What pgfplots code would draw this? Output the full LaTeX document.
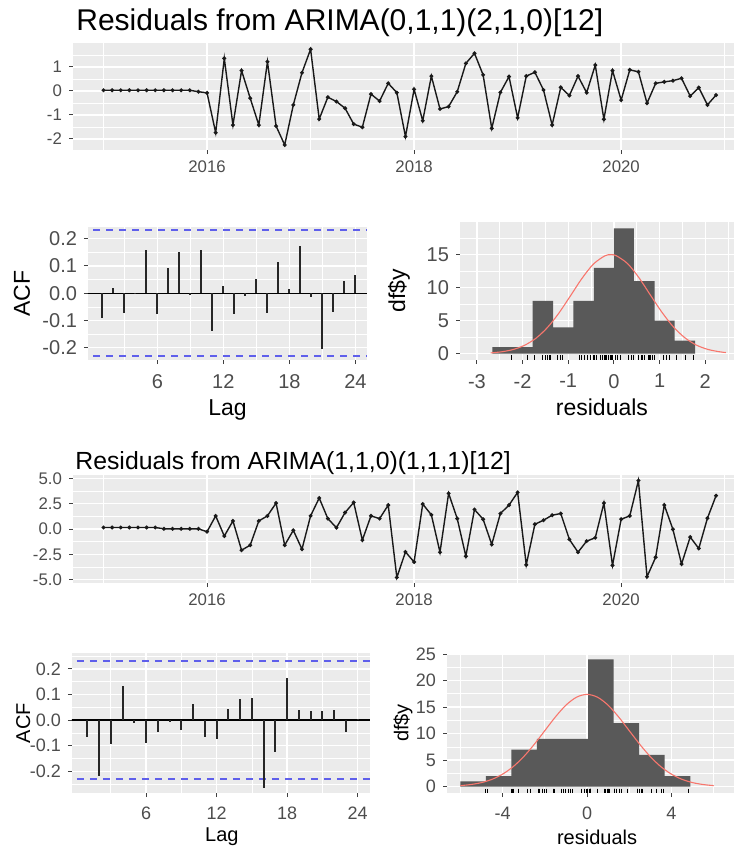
\documentclass[border=0pt]{standalone}
\usepackage{fontspec}
\setmainfont{Liberation Sans}
\usepackage{pgfplots}
\pgfplotsset{compat=1.18}
\usepackage{pgfplotstable}

\definecolor{panel}{HTML}{EBEBEB}
\definecolor{ggred}{RGB}{248,118,109}
\definecolor{acfblue}{RGB}{95,95,235}
\definecolor{ticktxt}{HTML}{4D4D4D}

% residuals, month index from Jan 2015
\pgfplotstableread{
i res
0 0.03
1 0.03
2 0.03
3 0.03
4 0.03
5 0.03
6 0.03
7 0.03
8 0.03
9 0.03
10 0.03
11 -0.03
12 -0.08
13 -1.74
14 1.36
15 -1.42
16 0.85
17 -0.30
18 -1.42
19 1.22
20 -1.46
21 -2.25
22 -0.58
23 0.76
24 1.74
25 -1.17
26 -0.26
27 -0.44
28 -0.72
29 -1.38
30 -1.51
31 -0.13
32 -0.42
33 0.32
34 -0.07
35 -1.90
36 0.07
37 -1.24
38 0.62
39 -0.75
40 -0.65
41 -0.03
42 1.15
43 1.57
44 0.67
45 -1.56
46 -0.06
47 0.60
48 -1.12
49 0.62
50 0.78
51 0.04
52 -1.42
53 0.15
54 -0.19
55 0.62
56 -0.07
57 1.08
58 -1.18
59 0.85
60 -0.38
61 0.88
62 0.80
63 -0.51
64 0.32
65 0.38
66 0.43
67 0.53
68 -0.21
69 0.14
70 -0.58
71 -0.17
}\resA

\pgfplotstableread{
i res
0 0.15
1 0.15
2 0.15
3 0.15
4 0.15
5 0.15
6 0.15
7 0.02
8 0.02
9 0.02
10 0.02
11 0.02
12 -0.27
13 1.30
14 -0.70
15 0.80
16 -2.10
17 -1.60
18 0.80
19 1.30
20 2.57
21 -1.60
22 -0.13
23 -2.00
24 1.30
25 3.07
26 1.03
27 0.13
28 1.63
29 2.63
30 -1.10
31 1.30
32 1.03
33 2.37
34 -4.80
35 -2.27
36 -3.27
37 2.47
38 1.40
39 -2.30
40 3.53
41 1.03
42 -2.70
43 1.93
44 0.97
45 -1.53
46 1.53
47 2.37
48 3.63
49 -3.55
50 0.47
51 0.87
52 1.37
53 1.53
54 -1.03
55 -2.30
56 -1.20
57 -0.87
58 2.57
59 -3.60
60 0.97
61 1.30
62 4.80
63 -4.73
64 -2.80
65 2.37
66 -0.03
67 -3.47
68 -0.80
69 -1.93
70 1.07
71 3.30
}\resB

\pgfplotsset{
  gg/.style={
    scale only axis, anchor=north west,
    axis background/.style={fill=panel},
    axis line style={draw=none},
    xmajorgrids, ymajorgrids, xminorgrids, yminorgrids,
    major grid style={white, line width=0.7pt},
    minor grid style={white, line width=0.35pt},
    tick align=outside, major tick length=2pt, minor tick length=0pt,
    tick style={black!75, line width=0.5pt},
    xtick pos=left, ytick pos=left,
    ticklabel style={text=ticktxt},
  },
  ts/.style={gg, xmin=2014.705, xmax=2021.09,
    xtick={2016,2018,2020}, xticklabels={2016,2018,2020},
    minor xtick={2015,2017,2019,2021},
    ticklabel style={font=\fontsize{8.4}{9}\selectfont}},
  acf/.style={gg, xmin=-0.3, xmax=25.05,
    xtick={6,12,18,24}, xticklabels={6,12,18,24},
    minor xtick={3,9,15,21},
    ytick={-0.2,-0.1,0,0.1,0.2}, yticklabels={-0.2,-0.1,0.0,0.1,0.2}},
  conf/.style={acfblue, dash pattern=on 3.5pt off 3pt, line width=0.8pt},
}

\begin{document}
\begin{tikzpicture}
\useasboundingbox (0,0) rectangle (367pt,-424pt);

% ---------- first model ----------
\node[anchor=base west, inner sep=0pt, font=\fontsize{15}{18}\selectfont] at (38pt,-15pt) {Residuals from ARIMA(0,1,1)(2,1,0)[12]};

\begin{axis}[ts, at={(36.5pt,-21.5pt)}, width=330.5pt, height=53.5pt,
  ymin=-2.46, ymax=2.0,
  ytick={-2,-1,0,1}, yticklabels={-2,-1,0,1},
  minor ytick={-1.5,-0.5,0.5,1.5}]
\addplot[black!90, line width=0.7pt, mark=*, mark size=0.6pt] table[x expr=2015+\thisrow{i}/12, y=res] {\resA};
\end{axis}

\begin{axis}[acf, at={(44pt,-113.5pt)}, width=139.5pt, height=66.5pt,
  ymin=-0.245, ymax=0.243,
  minor ytick={-0.15,-0.05,0.05,0.15},
  ticklabel style={font=\fontsize{10}{11}\selectfont},
  xticklabel style={yshift=-1.5pt},
  xlabel={Lag}, ylabel={ACF},
  label style={font=\fontsize{11.5}{13}\selectfont},
  xlabel style={at={(axis description cs:0.5,-0.376)}, anchor=center},
  ylabel style={at={(axis description cs:-0.237,0.5)}, anchor=center}]
\addplot[conf] coordinates {(-1,0.231) (26,0.231)};
\addplot[conf] coordinates {(-1,-0.231) (26,-0.231)};
\addplot[black, line width=0.6pt] coordinates {(-1,0) (26,0)};
\addplot[ycomb, black!85, line width=1pt] coordinates {
(1,-0.090) (2,0.018) (3,-0.073) (4,0.002) (5,0.158) (6,-0.075)
(7,0.091) (8,0.152) (9,-0.006) (10,0.158) (11,-0.137) (12,0.027)
(13,-0.075) (14,-0.010) (15,0.052) (16,-0.073) (17,0.115) (18,0.015)
(19,0.172) (20,-0.015) (21,-0.204) (22,-0.067) (23,0.046) (24,0.067)};
\end{axis}

\begin{axis}[gg, at={(230pt,-111pt)}, width=137pt, height=69pt,
  xmin=-3.37, xmax=2.63, ymin=-0.95, ymax=19.95,
  xtick={-3,-2,-1,0,1,2}, xticklabels={-3,-2,-1,0,1,2},
  minor xtick={-2.5,-1.5,-0.5,0.5,1.5,2.5},
  ytick={0,5,10,15}, yticklabels={0,5,10,15},
  minor ytick={2.5,7.5,12.5,17.5},
  ticklabel style={font=\fontsize{10}{11}\selectfont},
  xticklabel style={yshift=-1.5pt},
  xlabel={residuals}, ylabel={df\$y},
  label style={font=\fontsize{11.5}{13}\selectfont},
  xlabel style={at={(axis description cs:0.518,-0.34)}, anchor=center},
  ylabel style={at={(axis description cs:-0.223,0.5)}, anchor=center}]
\addplot[ybar interval, fill=black!65, draw=none] coordinates {
(-2.66,1) (-2.22,1) (-1.78,8) (-1.33,4) (-0.89,8) (-0.44,13) (0,19) (0.44,11) (0.89,5) (1.33,2) (1.78,2)};
\addplot[ggred, line width=0.55pt, smooth] coordinates {
(-2.7,0.125) (-2.45,0.30) (-2.2,0.65) (-1.95,1.30) (-1.7,2.38) (-1.45,4.01) (-1.2,6.20) (-0.95,8.78)
(-0.7,11.40) (-0.45,13.57) (-0.2,14.82) (-0.07,15.0) (0.05,14.85) (0.3,13.65) (0.55,11.50) (0.8,8.88)
(1.05,6.30) (1.3,4.09) (1.55,2.44) (1.8,1.33) (2.05,0.67) (2.3,0.31) (2.45,0.18)};
\addplot[only marks, mark=|, mark size=1.1pt, black, line width=0.4pt] table[x=res, y expr=-0.6] {\resA};
\end{axis}

% ---------- second model ----------
\node[anchor=base west, inner sep=0pt, font=\fontsize{12.4}{15}\selectfont] at (37.5pt,-234.5pt) {Residuals from ARIMA(1,1,0)(1,1,1)[12]};

\begin{axis}[ts, at={(36.5pt,-237.5pt)}, width=330.5pt, height=54pt,
  ymin=-5.35, ymax=5.35,
  ytick={-5,-2.5,0,2.5,5}, yticklabels={-5.0,-2.5,0.0,2.5,5.0},
  minor ytick={-3.75,-1.25,1.25,3.75}]
\addplot[black!90, line width=0.7pt, mark=*, mark size=0.6pt] table[x expr=2015+\thisrow{i}/12, y=res] {\resB};
\end{axis}

\begin{axis}[acf, at={(36pt,-326.5pt)}, width=149pt, height=70pt,
  ymin=-0.285, ymax=0.262,
  minor ytick={-0.25,-0.15,-0.05,0.05,0.15,0.25},
  ticklabel style={font=\fontsize{9}{10}\selectfont},
  xticklabel style={yshift=-1.5pt},
  xlabel={Lag}, ylabel={ACF},
  label style={font=\fontsize{10}{12}\selectfont},
  xlabel style={at={(axis description cs:0.503,-0.314)}, anchor=center},
  ylabel style={at={(axis description cs:-0.164,0.5)}, anchor=center}]
\addplot[conf] coordinates {(-1,0.231) (26,0.231)};
\addplot[conf] coordinates {(-1,-0.231) (26,-0.231)};
\addplot[black, line width=0.6pt] coordinates {(-1,0) (26,0)};
\addplot[ycomb, black!85, line width=1pt] coordinates {
(1,-0.065) (2,-0.217) (3,-0.094) (4,0.135) (5,-0.013) (6,-0.088)
(7,-0.045) (8,-0.006) (9,-0.039) (10,0.062) (11,-0.065) (12,-0.075)
(13,0.045) (14,0.081) (15,0.086) (16,-0.265) (17,-0.123) (18,0.165)
(19,0.041) (20,0.035) (21,0.035) (22,0.041) (23,-0.045) (24,0.003)};
\end{axis}

\begin{axis}[gg, at={(223.5pt,-326.5pt)}, width=143.5pt, height=70pt,
  xmin=-6.63, xmax=6.96, ymin=-1.2, ymax=25.2,
  xtick={-4,0,4}, xticklabels={-4,0,4},
  minor xtick={-6,-2,2,6},
  ytick={0,5,10,15,20,25}, yticklabels={0,5,10,15,20,25},
  minor ytick={2.5,7.5,12.5,17.5,22.5},
  ticklabel style={font=\fontsize{9}{10}\selectfont},
  xticklabel style={yshift=-1.5pt},
  xlabel={residuals}, ylabel={df\$y},
  label style={font=\fontsize{10}{12}\selectfont},
  xlabel style={at={(axis description cs:0.523,-0.314)}, anchor=center},
  ylabel style={at={(axis description cs:-0.153,0.5)}, anchor=center}]
\addplot[ybar interval, fill=black!65, draw=none] coordinates {
(-6.0,1) (-4.79,2) (-3.58,7) (-2.37,9) (-1.16,9) (0.05,24) (1.26,12) (2.47,6) (3.68,2) (4.89,2)};
\addplot[ggred, line width=0.55pt, smooth] coordinates {
(-6,0.19) (-5.5,0.40) (-5,0.76) (-4.5,1.38) (-4,2.35) (-3.5,3.76) (-3,5.65) (-2.5,7.97) (-2,10.55)
(-1.5,13.13) (-1,15.36) (-0.5,16.86) (0,17.4) (0.5,16.86) (1,15.36) (1.5,13.13) (2,10.55) (2.5,7.97)
(3,5.65) (3.5,3.76) (4,2.35) (4.5,1.38) (5,0.76) (5.5,0.40) (6,0.19)};
\addplot[only marks, mark=|, mark size=1.1pt, black, line width=0.4pt] table[x=res, y expr=-0.78] {\resB};
\end{axis}
\end{tikzpicture}
\end{document}
